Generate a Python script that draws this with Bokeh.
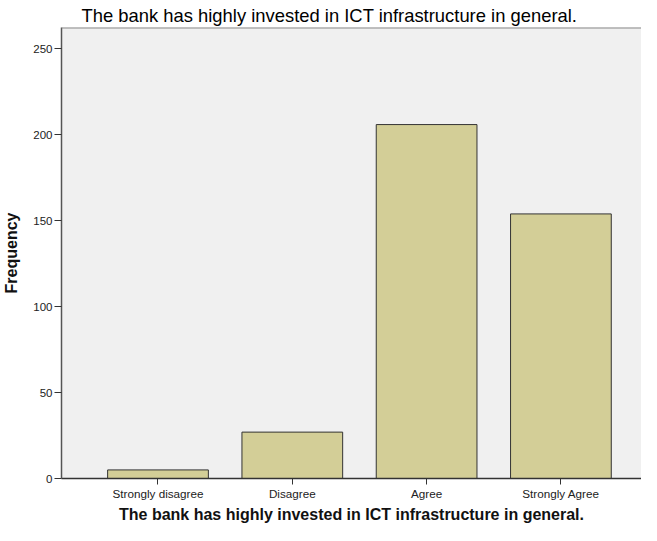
from bokeh.plotting import figure
from bokeh.models import Range1d, FixedTicker, Span, ColumnDataSource
from bokeh.embed import file_html
from bokeh.resources import INLINE

categories = ["Strongly disagree", "Disagree", "Agree", "Strongly Agree"]
frequency = [5, 27, 206, 154]
y_ticks = [0, 50, 100, 150, 200, 250]
title_text = "The bank has highly invested in ICT infrastructure in general."
x_label = "The bank has highly invested in ICT infrastructure in general."
y_label = "Frequency"

FONT = "Liberation Sans"
Y_MAX = 262.5

positions = list(range(len(categories)))
source = ColumnDataSource(dict(x=positions, top=frequency, cat=categories))

p = figure(width=641, height=525, output_backend="svg", toolbar_location=None,
           x_range=Range1d(-0.7185, 3.6), y_range=Range1d(0, Y_MAX),
           min_border_left=58, min_border_right=0, min_border_top=27,
           min_border_bottom=42)

p.title.text = title_text
p.title.align = "left"
p.title.offset = 20
p.title.text_font = FONT
p.title.text_font_size = "18.4px"
p.title.text_font_style = "normal"
p.title.text_color = "#000000"
p.title.standoff = 4

p.background_fill_color = "#f0f0f0"
p.border_fill_color = "white"
p.outline_line_color = None
p.xgrid.visible = False
p.ygrid.visible = False

p.vbar(x="x", top="top", width=0.75, source=source,
       fill_color="#d3ce97", line_color="#333333", line_width=1)

p.add_layout(Span(location=Y_MAX, dimension="width", line_color="#888888", line_width=2))

xa = p.xaxis[0]
xa.ticker = FixedTicker(ticks=positions)
xa.major_label_overrides = {i: c for i, c in zip(positions, categories)}
xa.major_tick_out = 6
xa.major_tick_in = 0
xa.minor_tick_line_color = None
xa.axis_line_color = "#333333"
xa.axis_line_width = 1.5
xa.major_tick_line_color = "#333333"
xa.major_label_text_font = FONT
xa.major_label_text_font_size = "11.7px"
xa.major_label_text_color = "#222222"
xa.major_label_standoff = 2
xa.axis_label = x_label
xa.axis_label_text_font = FONT
xa.axis_label_text_font_size = "16px"
xa.axis_label_text_font_style = "bold"
xa.axis_label_text_color = "#111111"
xa.axis_label_standoff = 3

ya = p.yaxis[0]
ya.ticker = FixedTicker(ticks=y_ticks)
ya.major_tick_out = 7
ya.major_tick_in = 0
ya.minor_tick_line_color = None
ya.axis_line_color = "#555555"
ya.axis_line_width = 1.5
ya.major_tick_line_color = "#333333"
ya.major_label_text_font = FONT
ya.major_label_text_font_size = "11.5px"
ya.major_label_text_color = "#222222"
ya.major_label_standoff = 2
ya.axis_label = y_label
ya.axis_label_text_font = FONT
ya.axis_label_text_font_size = "16px"
ya.axis_label_text_font_style = "bold"
ya.axis_label_text_color = "#111111"
ya.axis_label_standoff = 10

open("out.html", "w").write(file_html(p, INLINE))
